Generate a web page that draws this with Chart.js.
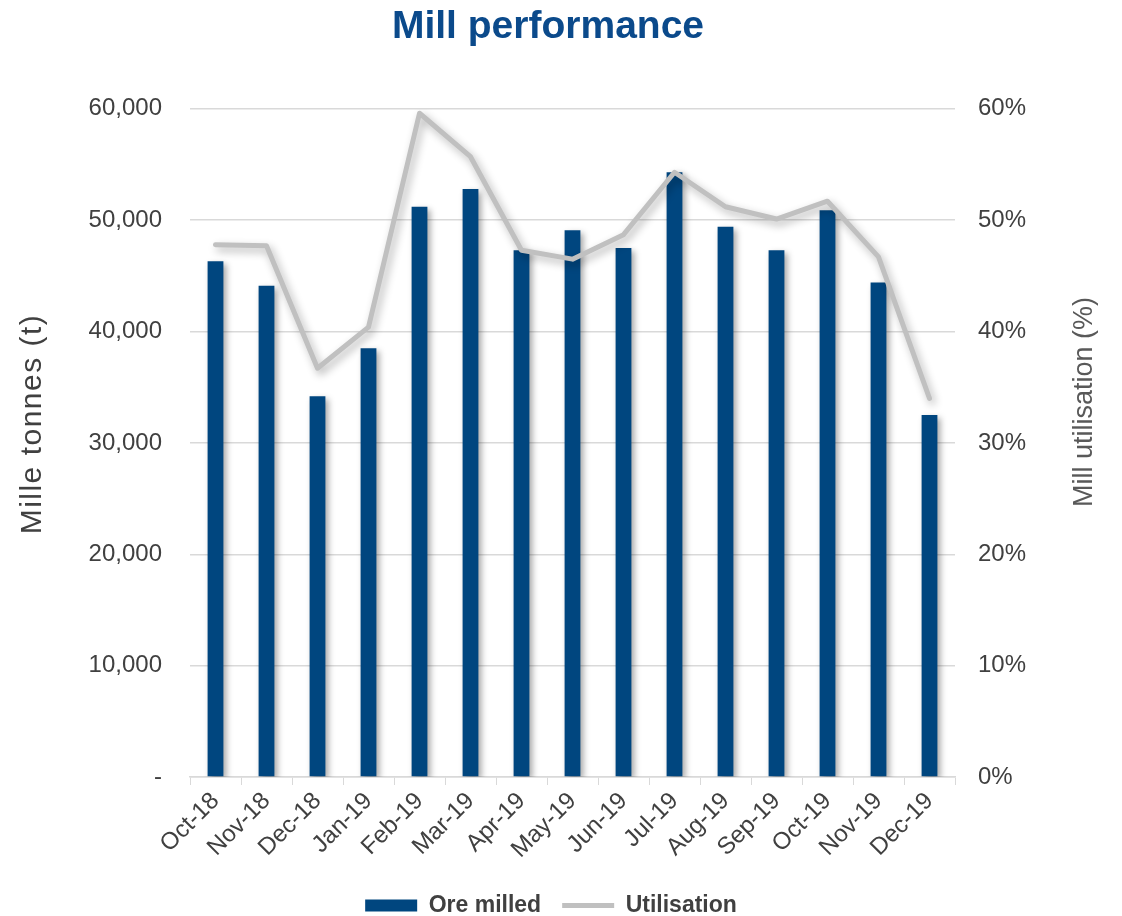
<!DOCTYPE html>
<html>
<head>
<meta charset="utf-8">
<title>Mill performance</title>
<script src="https://cdn.jsdelivr.net/npm/chart.js@4/dist/chart.umd.min.js"></script>
<style>
  body { margin: 0; background: #fff; }
  #wrap { width: 1122px; height: 916px; }
</style>
</head>
<body>
<div id="wrap"><canvas id="millChart" width="1122" height="916"></canvas></div>
<script>
const months = ['Oct-18', 'Nov-18', 'Dec-18', 'Jan-19', 'Feb-19', 'Mar-19', 'Apr-19', 'May-19',
                'Jun-19', 'Jul-19', 'Aug-19', 'Sep-19', 'Oct-19', 'Nov-19', 'Dec-19'];
const oreMilled = [46300, 44100, 34200, 38500, 51200, 52800, 47300, 49100,
                   47500, 54300, 49400, 47300, 50900, 44400, 32500];
const utilisation = [47.8, 47.7, 36.7, 40.4, 59.6, 55.7, 47.3, 46.5,
                     48.7, 54.3, 51.2, 50.1, 51.7, 46.7, 34.0];

const BLUE = '#00467f';
const GREY_LINE = '#c0c0c0';
const TEXT = '#404040';
const GRID = '#d9d9d9';
const FONT = "'Liberation Sans', Arial, sans-serif";

// soft drop shadow under bars and the line
const shadowPlugin = {
    id: 'markShadow',
    beforeDatasetDraw(chart, args) {
        const ctx = chart.ctx;
        ctx.save();
        const isLine = args.meta.type === 'line';
        ctx.shadowColor = isLine ? 'rgba(0, 0, 0, 0.3)' : 'rgba(0, 0, 0, 0.35)';
        ctx.shadowBlur = isLine ? 8 : 6;
        ctx.shadowOffsetX = 3;
        ctx.shadowOffsetY = isLine ? 4 : 3;
    },
    afterDatasetDraw(chart) {
        chart.ctx.restore();
    }
};

// both axis titles read bottom-to-top
const axisTitles = {
    id: 'axisTitles',
    afterDraw(chart) {
        const ctx = chart.ctx;
        const draw = (text, x, y, size, color, spacing) => {
            ctx.save();
            ctx.translate(x, y);
            ctx.rotate(-Math.PI / 2);
            ctx.font = size + 'px ' + FONT;
            ctx.letterSpacing = spacing + 'px';
            ctx.fillStyle = color;
            ctx.textAlign = 'center';
            ctx.textBaseline = 'middle';
            ctx.fillText(text, 0, 0);
            ctx.restore();
        };
        draw('Mille tonnes (t)', 33, 424, 30, TEXT, 1.5);
        draw('Mill utilisation (%)', 1085, 402, 27, '#595959', 0);
    }
};

// nudge the title and legend rows into place
const blockShift = {
    id: 'blockShift',
    afterLayout(chart) {
        const t = chart.titleBlock;
        t.left -= 13; t.right -= 13;
        const lg = chart.legend;
        lg.top += 11; lg.bottom += 11;
        lg.left -= 10; lg.right -= 10;
    }
};

const ctx = document.getElementById('millChart').getContext('2d');
new Chart(ctx, {
    data: {
        labels: months,
        datasets: [{
            type: 'bar',
            label: 'Ore milled',
            data: oreMilled,
            backgroundColor: BLUE,
            yAxisID: 'y',
            order: 1,
            barPercentage: 0.31,
            categoryPercentage: 1,
            pointStyle: 'rect'
        }, {
            type: 'line',
            label: 'Utilisation',
            data: utilisation,
            borderColor: GREY_LINE,
            backgroundColor: GREY_LINE,
            borderWidth: 5,
            borderCapStyle: 'round',
            borderJoinStyle: 'round',
            pointRadius: 0,
            pointHoverRadius: 0,
            tension: 0,
            yAxisID: 'y1',
            order: 0,
            pointStyle: 'line'
        }]
    },
    options: {
        responsive: false,
        animation: false,
        layout: { padding: 0 },
        plugins: {
            title: {
                display: true,
                text: 'Mill performance',
                color: '#0b4a8b',
                font: { family: FONT, size: 39, weight: 'bold' },
                padding: { top: 4, bottom: 58 }
            },
            legend: {
                position: 'bottom',
                labels: {
                    usePointStyle: true,
                    pointStyleWidth: 52,
                    boxHeight: 12,
                    padding: 21,
                    color: TEXT,
                    font: { family: FONT, size: 23, weight: 'bold' },
                    sort: (a, b) => a.datasetIndex - b.datasetIndex
                }
            },
            tooltip: { enabled: false }
        },
        scales: {
            x: {
                offset: true,
                grid: {
                    offset: true,
                    drawOnChartArea: false,
                    drawTicks: true,
                    tickLength: 8,
                    color: GRID
                },
                border: { display: true, color: GRID, width: 1.5 },
                ticks: {
                    color: TEXT,
                    font: { family: FONT, size: 24 },
                    minRotation: 45,
                    maxRotation: 45,
                    padding: 2
                },
                afterFit(scale) { scale.height = 85; }
            },
            y: {
                position: 'left',
                min: 0,
                max: 60000,
                grid: { color: GRID, lineWidth: 1.5, drawTicks: false },
                border: { display: false },
                ticks: {
                    stepSize: 10000,
                    padding: 28,
                    color: TEXT,
                    font: { family: FONT, size: 24 },
                    callback: v => v === 0 ? '-' : v.toLocaleString('en-US')
                },
                afterFit(scale) { scale.width = 190; }
            },
            y1: {
                position: 'right',
                min: 0,
                max: 60,
                grid: { drawOnChartArea: false, drawTicks: false },
                border: { display: false },
                ticks: {
                    stepSize: 10,
                    padding: 23,
                    color: TEXT,
                    font: { family: FONT, size: 24 },
                    callback: v => v + '%'
                },
                afterFit(scale) { scale.width = 167; }
            }
        }
    },
    plugins: [shadowPlugin, axisTitles, blockShift]
});
</script>
</body>
</html>
